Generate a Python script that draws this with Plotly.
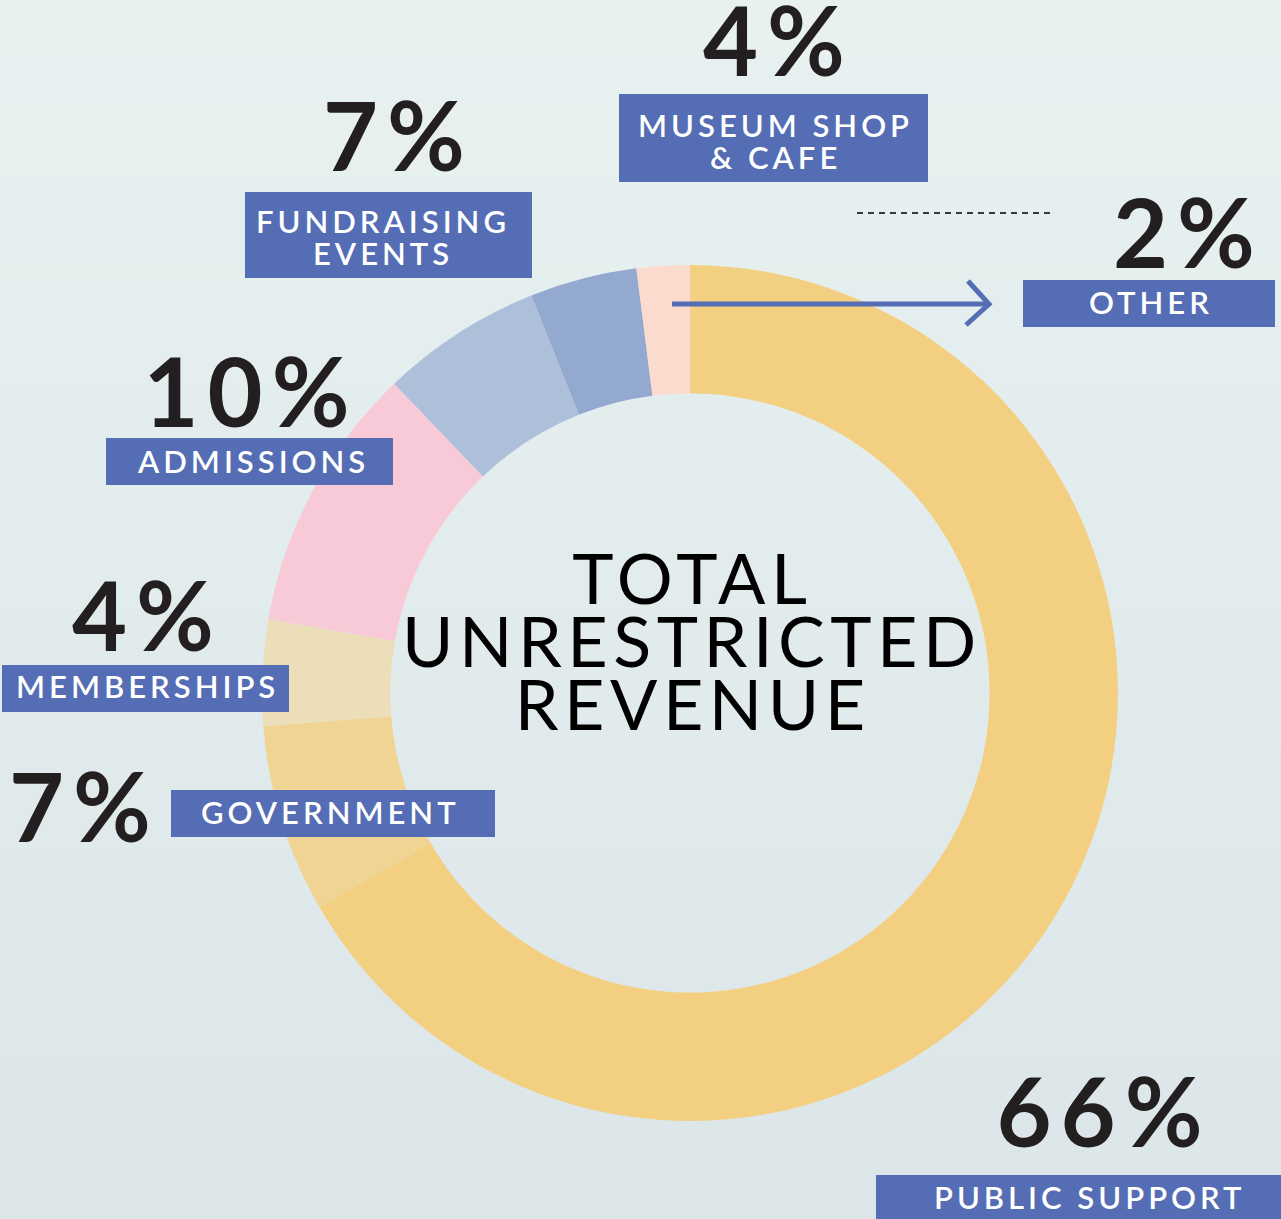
import json
import plotly.graph_objects as go

# ---------------- data ----------------
categories = ["PUBLIC SUPPORT", "GOVERNMENT", "MEMBERSHIPS", "ADMISSIONS",
              "FUNDRAISING EVENTS", "MUSEUM SHOP & CAFE", "OTHER"]
shares = [66.7, 7.1, 4.0, 10.1, 6.1, 4.05, 2.0]          # slice sizes read from the ring
pct_labels = ["66%", "7%", "4%", "10%", "7%", "4%", "2%"]  # printed labels
box_lines = [["PUBLIC SUPPORT"], ["GOVERNMENT"], ["MEMBERSHIPS"], ["ADMISSIONS"],
             ["FUNDRAISING", "EVENTS"], ["MUSEUM SHOP", "& CAFE"], ["OTHER"]]
center_title = ["TOTAL", "UNRESTRICTED", "REVENUE"]

# ---------------- styles / positions ----------------
W, H = 1281, 1219
slice_colors = ["#F3D081", "#EFD493", "#EBDEB9", "#F8C9D7", "#AEBFD9", "#94A9CF", "#FCDBCF"]
BOX = "#546DB5"
INK = "#231F20"
FONT = "Lato"

# pixel boxes (x0, y0, x1, y1), text line centres, percent centres
boxes = [(876, 1175, 1290, 1230), (171, 790, 495, 837), (2, 665, 289, 712),
         (106, 438, 393, 485), (245, 192, 532, 278), (619, 94, 928, 182),
         (1023, 280, 1275, 327)]
box_text_pos = [[(1090, 1197)], [(330, 812)], [(147, 686)], [(253, 461)],
                [(383, 221), (383, 253)], [(775, 125), (775, 157)], [(1151, 302)]]
pct_pos = [(1104, 1110), (84, 805), (147, 614), (251, 390), (398, 134), (778, 39), (1188, 231)]
title_pos = [(692, 577), (692, 640), (692, 703)]

cx, cy, R = 690, 693, 428

fig = go.Figure()

fig.add_trace(go.Pie(
    labels=categories, values=shares, sort=False, direction="clockwise", rotation=0,
    hole=0.70, textinfo="none", hoverinfo="label+value",
    marker=dict(colors=slice_colors, line=dict(width=0)),
    domain=dict(x=[(cx - R) / W, (cx + R) / W], y=[1 - (cy + R) / H, 1 - (cy - R) / H]),
    showlegend=False,
))
# invisible cartesian trace so pixel-space axes exist
fig.add_trace(go.Scatter(x=[None], y=[None], mode="markers", showlegend=False, hoverinfo="skip"))

shapes = []
# background gradient bands
top_c = (232, 241, 240)
bot_c = (220, 230, 233)
n = 60
for i in range(n):
    t = i / (n - 1)
    c = tuple(round(top_c[k] + (bot_c[k] - top_c[k]) * t) for k in range(3))
    shapes.append(dict(type="rect", xref="x", yref="y", layer="below",
                       x0=-5, x1=W + 5, y0=H * i / n - 1, y1=H * (i + 1) / n + 1,
                       fillcolor="rgb(%d,%d,%d)" % c, line=dict(width=0)))

for (x0, y0, x1, y1) in boxes:
    shapes.append(dict(type="rect", xref="x", yref="y", x0=x0, x1=x1, y0=y0, y1=y1,
                       fillcolor=BOX, line=dict(width=0)))

# arrow toward OTHER
shapes.append(dict(type="line", xref="x", yref="y", x0=672, x1=988, y0=304, y1=304,
                   line=dict(color=BOX, width=5)))
shapes.append(dict(type="path", xref="x", yref="y", path="M 968 281 L 989 304 L 966 325",
                   line=dict(color=BOX, width=5)))
# clipped remnant line near top-right
shapes.append(dict(type="line", xref="x", yref="y", x0=857, x1=1055, y0=213, y1=213,
                   line=dict(color="#3a3a3a", width=2, dash="6px,5px")))

annotations = []
spacing = []
for lines, poss in zip(box_lines, box_text_pos):
    for txt, (x, y) in zip(lines, poss):
        annotations.append(dict(x=x, y=y, xref="x", yref="y", text=txt, showarrow=False,
                                xanchor="center", yanchor="middle",
                                font=dict(family=FONT, size=31, color="white", weight=600)))
        spacing.append(4)
for txt, (x, y) in zip(pct_labels, pct_pos):
    annotations.append(dict(x=x, y=y, xref="x", yref="y", text=txt, showarrow=False,
                            xanchor="center", yanchor="middle",
                            font=dict(family=FONT, size=95, color=INK, weight=700)))
    spacing.append(9)
for txt, (x, y) in zip(center_title, title_pos):
    annotations.append(dict(x=x, y=y, xref="x", yref="y", text=txt, showarrow=False,
                            xanchor="center", yanchor="middle",
                            font=dict(family=FONT, size=70, color="#000000", weight=400)))
    spacing.append(5.5)

fig.update_layout(
    width=W, height=H, margin=dict(l=0, r=0, t=0, b=0),
    paper_bgcolor="rgb(226,236,237)", plot_bgcolor="rgba(0,0,0,0)",
    xaxis=dict(range=[0, W], visible=False, domain=[0, 1], fixedrange=True),
    yaxis=dict(range=[H, 0], visible=False, domain=[0, 1], fixedrange=True),
    shapes=shapes, annotations=annotations, showlegend=False,
)

css = "html,body{margin:0;padding:0;overflow:hidden;} " + " ".join(
    'g.annotation[data-index="%d"] text{letter-spacing:%spx;}' % (i, s)
    for i, s in enumerate(spacing))
post = ("var s=document.createElement('style');s.textContent=" + json.dumps(css) +
        ";document.head.appendChild(s);")

fig.write_html("out.html", post_script=post, config={"displayModeBar": False})
